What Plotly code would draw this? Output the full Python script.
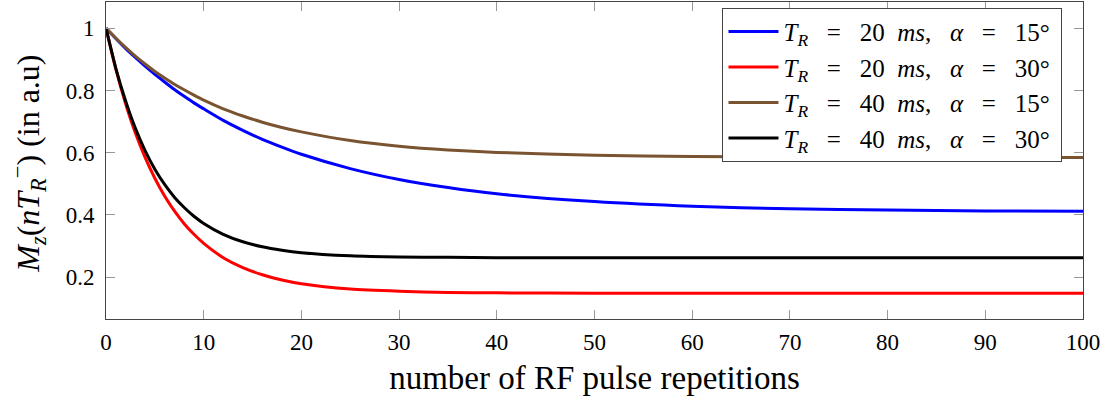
import plotly.graph_objects as go

# number of RF pulse repetitions (sample points)
n_pulses = [0, 1, 2, 3, 4, 5, 6, 7, 8, 9, 10, 12, 14, 16, 18, 20, 25, 30, 35, 40, 50, 60, 70, 80, 90, 100]

# M_z values
mz_tr20_a15 = [1.0, 0.967, 0.935, 0.906, 0.878, 0.852, 0.827, 0.803, 0.781, 0.760, 0.741, 0.704, 0.672,
               0.643, 0.618, 0.595, 0.549, 0.514, 0.488, 0.468, 0.443, 0.428, 0.420, 0.416, 0.413, 0.412]
mz_tr20_a30 = [1.0, 0.869, 0.758, 0.664, 0.585, 0.518, 0.461, 0.413, 0.372, 0.338, 0.309, 0.263, 0.231,
               0.208, 0.191, 0.179, 0.162, 0.155, 0.151, 0.150, 0.149, 0.149, 0.149, 0.149, 0.149, 0.149]
mz_tr40_a15 = [1.0, 0.968, 0.938, 0.910, 0.885, 0.861, 0.840, 0.820, 0.802, 0.785, 0.769, 0.741, 0.718,
               0.698, 0.681, 0.667, 0.639, 0.621, 0.609, 0.601, 0.592, 0.588, 0.586, 0.586, 0.585, 0.585]
mz_tr40_a30 = [1.0, 0.872, 0.767, 0.679, 0.607, 0.547, 0.498, 0.457, 0.424, 0.396, 0.373, 0.338, 0.314,
               0.298, 0.287, 0.279, 0.269, 0.265, 0.264, 0.263, 0.263, 0.263, 0.263, 0.263, 0.263, 0.263]

S3 = "&nbsp;&nbsp;&nbsp;"
S2 = "&nbsp;&nbsp;"
EQ = S3 + "=" + S3


def legend_label(tr, alpha):
    return (f"<i>T</i><sub><i>R</i></sub>{EQ}{tr}{S2}<i>ms</i>,{S3}<i>α</i>{EQ}{alpha}°&nbsp;")


series_names = [
    legend_label(20, 15),
    legend_label(20, 30),
    legend_label(40, 15),
    legend_label(40, 30),
]
series_values = [mz_tr20_a15, mz_tr20_a30, mz_tr40_a15, mz_tr40_a30]
series_colors = ["#0000ff", "#ff0000", "#7a5431", "#000000"]

x_ticks = [0, 10, 20, 30, 40, 50, 60, 70, 80, 90, 100]
y_ticks = [0.2, 0.4, 0.6, 0.8, 1.0]
y_tick_labels = ["0.2", "0.4", "0.6", "0.8", "1"]

x_title = "number of RF pulse repetitions"
y_title = "<i>M</i><sub><i>z</i></sub>(<i>nT</i><sub><i>R</i></sub><sup>−</sup>) (in a.u)"

FONT = "Liberation Serif"

fig = go.Figure()
for name, vals, col in zip(series_names, series_values, series_colors):
    fig.add_trace(go.Scatter(
        x=n_pulses, y=vals, mode="lines", name=name,
        line=dict(color=col, width=3, shape="spline", smoothing=0.6),
    ))

fig.update_layout(
    width=1113, height=403,
    margin=dict(l=106, r=30, t=2, b=84),
    paper_bgcolor="white", plot_bgcolor="white",
    font=dict(family=FONT, color="black", size=23),
    showlegend=True,
    legend=dict(
        x=0.979, y=0.982, xanchor="right", yanchor="top",
        bgcolor="white", bordercolor="#444", borderwidth=1,
        font=dict(family=FONT, size=25, color="black"),
        itemwidth=50, tracegroupgap=0,
    ),
    annotations=[dict(
        text=y_title, xref="paper", yref="paper",
        x=-0.0798, y=0.49, xanchor="center", yanchor="middle",
        textangle=-90, showarrow=False,
        font=dict(family=FONT, size=32, color="black"),
    )],
)
fig.update_xaxes(
    range=[0, 100], tickvals=x_ticks, ticktext=[str(v) for v in x_ticks],
    showgrid=False, zeroline=False, automargin=False,
    showline=True, linecolor="#444", linewidth=1, mirror="ticks",
    ticks="inside", ticklen=9, tickcolor="#999", tickwidth=1,
    tickfont=dict(family=FONT, size=23), ticklabelstandoff=2,
    title=dict(text=x_title, font=dict(family=FONT, size=33), standoff=12),
)
fig.update_yaxes(
    range=[0.066, 1.084], tickvals=y_ticks, ticktext=y_tick_labels,
    showgrid=False, zeroline=False, automargin=False,
    showline=True, linecolor="#444", linewidth=1, mirror="ticks",
    ticks="inside", ticklen=9, tickcolor="#999", tickwidth=1,
    tickfont=dict(family=FONT, size=23), ticklabelstandoff=6,
)

fig.write_html("out.html", config={"displayModeBar": False},
               post_script="document.body.style.margin='0px';")
